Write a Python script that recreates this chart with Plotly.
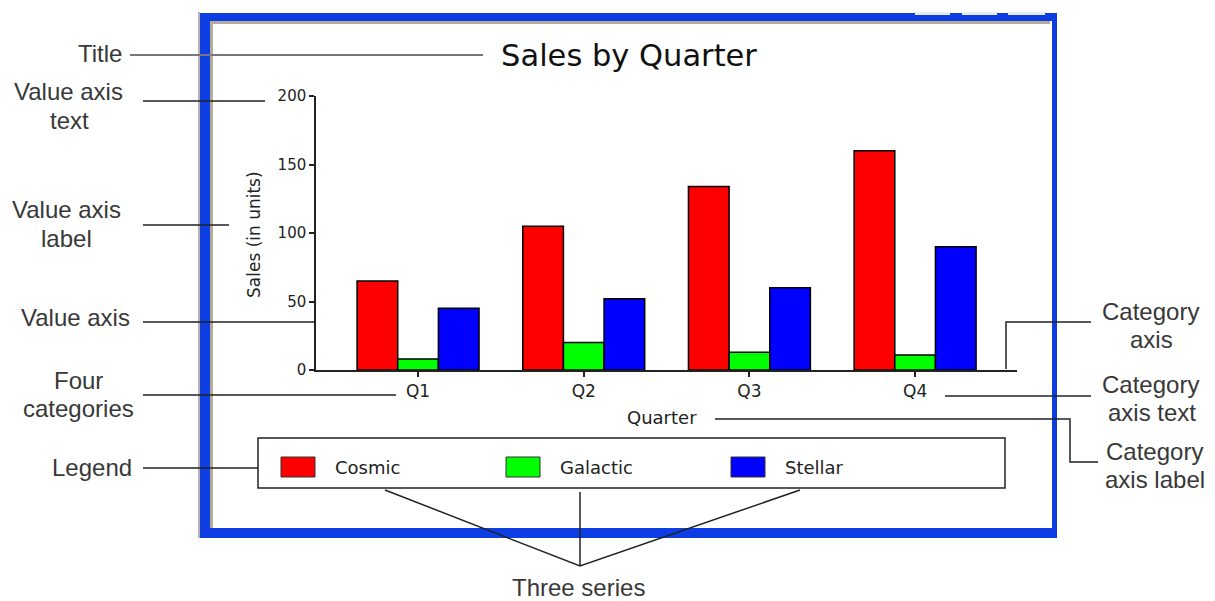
import plotly.graph_objects as go

W, H = 1215, 601
OFF = 8  # the page body adds an 8px margin round the figure

# chart data
QUARTERS = ["Q1", "Q2", "Q3", "Q4"]
SERIES = ["Cosmic", "Galactic", "Stellar"]
COSMIC = [65, 105, 134, 160]
GALACTIC = [8, 20, 13, 11]
STELLAR = [45, 52, 60, 90]
COLORS = ["#FF0000", "#00FF00", "#0000FF"]
Y_TICKS = [0, 50, 100, 150, 200]

# callout labels round the window, one entry per text line (text, x centre, y centre)
CALLOUTS = [
    ("Title", 100, 53),
    ("Value axis", 68, 92), ("text", 69, 120),
    ("Value axis", 66, 210), ("label", 66, 238),
    ("Value axis", 75, 317),
    ("Four", 78, 380), ("categories", 78, 408),
    ("Legend", 92, 467),
    ("Category", 1150, 311), ("axis", 1151, 339),
    ("Category", 1150, 384), ("axis text", 1152, 412),
    ("Category", 1154, 451), ("axis label", 1155, 479),
    ("Three series", 578, 587),
]

CHART_FONT = "DejaVu Sans"
NOTE_FONT = "Liberation Sans"


def px(x):
    return (x - OFF) / W


def py(y):
    return 1 - (y - OFF) / H


def seg(points, color="#222222", width=1.5):
    d = "M" + " L".join(f"{px(x)},{py(y)}" for x, y in points)
    return dict(type="path", path=d, xref="paper", yref="paper",
                line=dict(color=color, width=width), layer="above")


def rect(x0, y0, x1, y1, fill, line=None, layer="below"):
    return dict(type="rect", xref="paper", yref="paper",
                x0=px(x0), x1=px(x1), y0=py(y1), y1=py(y0),
                fillcolor=fill, layer=layer,
                line=line or dict(width=0))


def label(text, x, y, size, family=CHART_FONT, color="#222222", **kw):
    return dict(text=text, x=px(x), y=py(y), xref="paper", yref="paper",
                xanchor=kw.pop("xanchor", "center"), yanchor="middle",
                showarrow=False, font=dict(family=family, size=size, color=color), **kw)


fig = go.Figure()
for name, vals, col in zip(SERIES, [COSMIC, GALACTIC, STELLAR], COLORS):
    fig.add_trace(go.Bar(x=QUARTERS, y=vals, name=name, showlegend=False,
                         marker=dict(color=col, line=dict(color="black", width=1.5))))

shapes = []
# window frame
shapes.append(rect(198, 12, 200, 538, "#B9B2A6"))
shapes.append(rect(200, 13, 1057, 538, "#0C3EE4"))
shapes.append(rect(210, 21, 1052, 528, "white"))
shapes.append(rect(210, 21, 1050, 24, "#B5AB98"))
shapes.append(rect(210, 21, 213, 528, "#B5AB98"))
for x0, x1 in [(915, 950), (962, 997), (1008, 1045)]:
    shapes.append(rect(x0, 12, x1, 15, "#E4ECFB"))

# legend box + swatches (built from the series lists)
shapes.append(rect(258, 438, 1005, 488, "rgba(0,0,0,0)",
                   line=dict(color="#222222", width=1.5), layer="above"))
annotations = []
for i, (name, col) in enumerate(zip(SERIES, COLORS)):
    x0 = 281 + 225 * i
    shapes.append(rect(x0, 457, x0 + 34, 477, col,
                       line=dict(color="#333333", width=1), layer="above"))
    annotations.append(label(name, x0 + 52, 467, 18, xanchor="left"))

# pointer lines
shapes += [
    seg([(130, 55), (483, 55)], color="#777777", width=2),
    seg([(143, 101), (265, 101)]),
    seg([(143, 225), (229, 225)]),
    seg([(143, 322), (316, 322)]),
    seg([(143, 395), (396, 395)]),
    seg([(143, 468), (258, 468)]),
    seg([(1006, 369), (1006, 322), (1091, 322)]),
    seg([(945, 396), (1091, 396)]),
    seg([(715, 419), (1070, 419), (1070, 462), (1098, 462)]),
    seg([(385, 490), (580, 566), (800, 490)]),
    seg([(580, 492), (580, 566)]),
]

for text, x, y in CALLOUTS:
    annotations.append(label(text, x, y, 24, family=NOTE_FONT, color="#383838"))

annotations.append(label("Sales (in units)", 254, 235, 17, textangle=-90))
annotations.append(label("Quarter", 662, 418, 18))

fig.update_layout(
    width=W, height=H, margin=dict(l=0, r=0, t=0, b=0, autoexpand=False),
    paper_bgcolor="white", plot_bgcolor="rgba(0,0,0,0)",
    barmode="group", bargap=0.264, bargroupgap=0,
    title=dict(text="Sales by Quarter", x=px(629), y=py(55), xanchor="center",
               yanchor="middle", font=dict(family=CHART_FONT, size=30.5, color="#111111")),
    xaxis=dict(domain=[px(316), px(1017)], range=[-0.616, 3.615], automargin=False,
               showline=True, linecolor="#222222", linewidth=1.5,
               ticks="outside", ticklen=5, tickcolor="#222222", tickwidth=1.5,
               showgrid=False, zeroline=False,
               tickfont=dict(family=CHART_FONT, size=17, color="#222222")),
    yaxis=dict(domain=[py(370), py(96)], range=[0, 200], tickvals=Y_TICKS, automargin=False,
               showline=True, linecolor="#222222", linewidth=1.5,
               ticks="outside", ticklen=5, tickcolor="#222222", tickwidth=1.5,
               showgrid=False, zeroline=False,
               tickfont=dict(family=CHART_FONT, size=15, color="#222222")),
    shapes=shapes, annotations=annotations,
    font=dict(family=CHART_FONT, color="#222222"),
)

fig.write_html("out.html")
